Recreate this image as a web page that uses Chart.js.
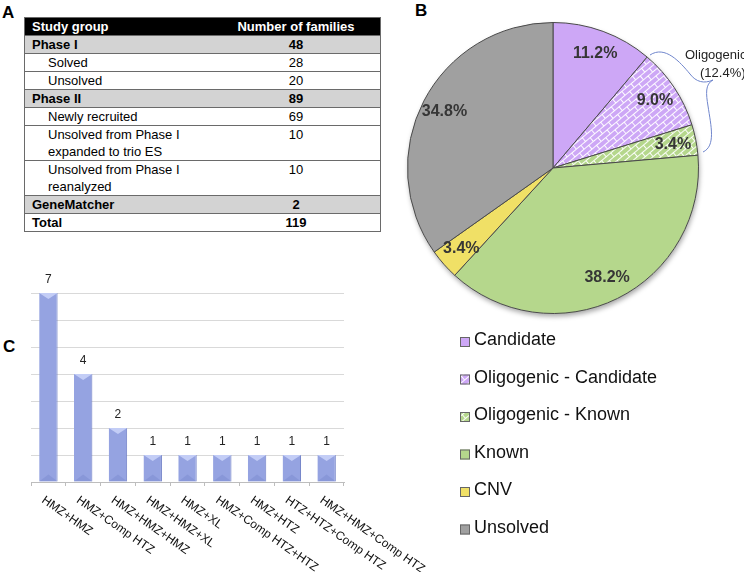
<!DOCTYPE html>
<html>
<head>
<meta charset="utf-8">
<script src="https://cdn.jsdelivr.net/npm/chart.js@4"></script>
<style>
    body { margin: 0; background: #fff; }
    #page { position: relative; width: 744px; height: 572px; overflow: hidden; font-family: 'Liberation Sans', Arial, sans-serif; }
    .panel { position: absolute; font: bold 17px 'Liberation Sans', Arial, sans-serif; color: #000; }
    #tbl { position: absolute; left: 24px; top: 17px; width: 357px; border-collapse: collapse; font-size: 13px; color: #000;
           border-left: 1px solid #6a6a6a; border-right: 1px solid #6a6a6a; }
    #tbl td { padding: 0; border-top: 1px solid #6a6a6a; border-bottom: 1px solid #6a6a6a; line-height: 17px; vertical-align: top; white-space: pre-line; }
    #tbl td.num { text-align: center; width: 168px; }
    #tbl tr.head td { background: #000; color: #fff; font-weight: bold; height: 17px; }
    #tbl tr.group td { background: #d3d3d3; font-weight: bold; }
    #tbl tr.total td { font-weight: bold; }
    #tbl td.name { padding-left: 7px; }
    #tbl tr.sub td.name { padding-left: 23px; }
    canvas { position: absolute; }
</style>
</head>
<body>
<div id="page">
    <div class="panel" style="left:2px;top:3px;">A</div>
    <table id="tbl"></table>
    <div class="panel" style="left:415px;top:1px;">B</div>
    <div class="panel" style="left:3px;top:337px;">C</div>
    <canvas id="pieChart" width="364" height="572" style="left:380px;top:0;"></canvas>
    <canvas id="barChart" width="440" height="312" style="left:0;top:260px;"></canvas>
</div>
<script>
// A - table
const tableNames = ['Phase I', 'Solved', 'Unsolved', 'Phase II', 'Newly recruited',
    'Unsolved from Phase I\nexpanded to trio ES', 'Unsolved from Phase I\nreanalyzed', 'GeneMatcher', 'Total'];
const tableCounts = [48, 28, 20, 89, 69, 10, 10, 2, 119];
const tableKinds = ['group', 'sub', 'sub', 'group', 'sub', 'sub', 'sub', 'group', 'total'];

// B - pie
const pieLabels = ['Candidate', 'Oligogenic - Candidate', 'Oligogenic - Known', 'Known', 'CNV', 'Unsolved'];
const pieValues = [11.2, 9.0, 3.4, 38.2, 3.4, 34.8];

// C - bars
const barLabels = ['HMZ+HMZ', 'HMZ+Comp HTZ', 'HMZ+HMZ+HMZ', 'HMZ+HMZ+XL', 'HMZ+XL',
    'HMZ+Comp HTZ+HTZ', 'HMZ+HTZ', 'HTZ+HTZ+Comp HTZ', 'HMZ+HMZ+Comp HTZ'];
const barValues = [7, 4, 2, 1, 1, 1, 1, 1, 1];

function buildTable() {
    const tbl = document.getElementById('tbl');
    let html = '<tr class="head"><td class="name">Study group</td><td class="num">Number of families</td></tr>';
    tableNames.forEach((name, i) => {
        html += `<tr class="${tableKinds[i]}"><td class="name">${name}</td><td class="num">${tableCounts[i]}</td></tr>`;
    });
    tbl.innerHTML = html;
}

function brick(base) {
    const c = document.createElement('canvas');
    c.width = 12; c.height = 10;
    const g = c.getContext('2d');
    g.fillStyle = base;
    g.fillRect(0, 0, 12, 10);
    g.strokeStyle = 'rgba(255,255,255,0.95)';
    g.lineWidth = 1;
    g.beginPath();
    g.moveTo(0, 0.5); g.lineTo(12, 0.5);
    g.moveTo(0, 5.5); g.lineTo(12, 5.5);
    g.moveTo(0.5, 0); g.lineTo(0.5, 5);
    g.moveTo(6.5, 5); g.lineTo(6.5, 10);
    g.stroke();
    const p = g.createPattern(c, 'repeat');
    p.setTransform(new DOMMatrix().rotate(-40));
    return p;
}

const purple = '#cda7f6';
const green = '#b5d78c';

const pieColors = [purple, brick(purple), brick(green), green, '#f0e066', '#a0a0a0'];

const pieDecor = {
    id: 'pieDecor',
    beforeDatasetsDraw(chart) {
        const arc = chart.getDatasetMeta(0).data[0];
        const { x, y, outerRadius } = arc.getProps(['x', 'y', 'outerRadius'], true);
        const ctx = chart.ctx;
        ctx.save();
        ctx.shadowColor = 'rgba(0,0,0,0.35)';
        ctx.shadowBlur = 5;
        ctx.shadowOffsetX = 1;
        ctx.shadowOffsetY = 3;
        ctx.fillStyle = '#fff';
        ctx.beginPath();
        ctx.arc(x, y, outerRadius, 0, Math.PI * 2);
        ctx.fill();
        ctx.restore();
    },
    afterDatasetsDraw(chart) {
        const ctx = chart.ctx;
        ctx.save();
        ctx.font = 'bold 16px "Liberation Sans", Arial';
        ctx.fillStyle = '#363636';
        ctx.textAlign = 'center';
        ctx.textBaseline = 'middle';
        chart.getDatasetMeta(0).data.forEach((arc, i) => {
            const p = arc.getProps(['x', 'y', 'startAngle', 'endAngle', 'outerRadius'], true);
            const mid = (p.startAngle + p.endAngle) / 2;
            const r = p.outerRadius * 0.84;
            ctx.fillText(pieValues[i].toFixed(1) + '%', p.x + Math.cos(mid) * r, p.y + Math.sin(mid) * r);
        });

        // brace for the oligogenic slices
        ctx.strokeStyle = '#7086cc';
        ctx.lineWidth = 1;
        ctx.beginPath();
        ctx.moveTo(270, 55);
        ctx.bezierCurveTo(285, 45, 300, 62, 310, 74);
        ctx.bezierCurveTo(316, 82, 324, 84, 333, 80);
        ctx.moveTo(333, 80);
        ctx.bezierCurveTo(325, 84, 326, 94, 328, 106);
        ctx.bezierCurveTo(331, 126, 336, 146, 323, 152);
        ctx.stroke();

        ctx.font = '13px "Liberation Sans", Arial';
        ctx.fillStyle = '#222';
        ctx.textAlign = 'left';
        ctx.textBaseline = 'alphabetic';
        ctx.fillText('Oligogenic', 305, 59);
        ctx.fillText('(12.4%)', 320, 77);

        // legend
        ctx.font = '18px "Liberation Sans", Arial';
        chart.data.labels.forEach((label, i) => {
            const base = 345 + i * 37.5;
            ctx.fillStyle = pieColors[i];
            ctx.fillRect(80, base - 8, 10, 10);
            ctx.strokeStyle = '#666';
            ctx.strokeRect(80.5, base - 7.5, 9, 9);
            ctx.fillStyle = '#111';
            ctx.fillText(label, 94, base);
        });
        ctx.restore();
    }
};

const barDecor = {
    id: 'barDecor',
    afterDatasetsDraw(chart) {
        const ctx = chart.ctx;
        ctx.save();
        chart.getDatasetMeta(0).data.forEach((bar, i) => {
            const { x, y, base, width } = bar.getProps(['x', 'y', 'base', 'width'], true);
            const l = x - width / 2, r = x + width / 2;
            ctx.fillStyle = 'rgba(200,210,248,0.9)';
            ctx.beginPath();
            ctx.moveTo(l, y); ctx.lineTo(r, y); ctx.lineTo(x, y + 6); ctx.closePath();
            ctx.fill();
            ctx.fillStyle = 'rgba(100,115,190,0.25)';
            ctx.beginPath();
            ctx.moveTo(l, base); ctx.lineTo(r, base); ctx.lineTo(x, base - 7); ctx.closePath();
            ctx.fill();

            ctx.fillStyle = '#222';
            ctx.font = '12px "Liberation Sans", Arial';
            ctx.textAlign = 'center';
            ctx.textBaseline = 'middle';
            ctx.fillText(barValues[i], x, y - 13);
        });
        ctx.restore();
    },
    afterDraw(chart) {
        const ctx = chart.ctx;
        const xs = chart.scales.x;
        ctx.save();
        ctx.font = '12px "Liberation Sans", Arial';
        ctx.fillStyle = '#111';
        ctx.textAlign = 'left';
        ctx.textBaseline = 'top';
        chart.data.labels.forEach((label, i) => {
            ctx.save();
            ctx.translate(xs.getPixelForValue(i) - 2, chart.chartArea.bottom + 12);
            ctx.rotate(35 * Math.PI / 180);
            ctx.fillText(label, 0, 0);
            ctx.restore();
        });
        ctx.restore();
    }
};

document.addEventListener('DOMContentLoaded', function () {
    buildTable();

    new Chart(document.getElementById('pieChart').getContext('2d'), {
        type: 'pie',
        data: {
            labels: pieLabels,
            datasets: [{
                data: pieValues,
                backgroundColor: pieColors,
                borderColor: '#4a4a4a',
                borderWidth: 1
            }]
        },
        options: {
            responsive: false,
            animation: false,
            layout: { padding: { left: 27, right: 45, top: 22, bottom: 258 } },
            plugins: {
                legend: { display: false },
                tooltip: { enabled: false }
            }
        },
        plugins: [pieDecor]
    });

    new Chart(document.getElementById('barChart').getContext('2d'), {
        type: 'bar',
        data: {
            labels: barLabels,
            datasets: [{
                data: barValues,
                backgroundColor: '#95a3e1',
                borderColor: '#6f7fc6',
                borderWidth: { left: 0, right: 1, top: 0, bottom: 0 },
                borderSkipped: false,
                barPercentage: 0.53,
                categoryPercentage: 1
            }]
        },
        options: {
            responsive: false,
            animation: false,
            layout: { padding: { left: 31, right: 96, top: 33, bottom: 86 } },
            plugins: {
                legend: { display: false },
                tooltip: { enabled: false }
            },
            scales: {
                x: {
                    grid: { offset: true, drawOnChartArea: false, tickLength: 4, color: '#bdbdbd' },
                    border: { color: '#bdbdbd' },
                    ticks: { display: false }
                },
                y: {
                    min: 0,
                    max: 7,
                    ticks: { display: false, stepSize: 1 },
                    grid: { color: '#d9d9d9', drawTicks: false },
                    border: { display: false }
                }
            }
        },
        plugins: [barDecor]
    });
});
</script>
</body>
</html>
